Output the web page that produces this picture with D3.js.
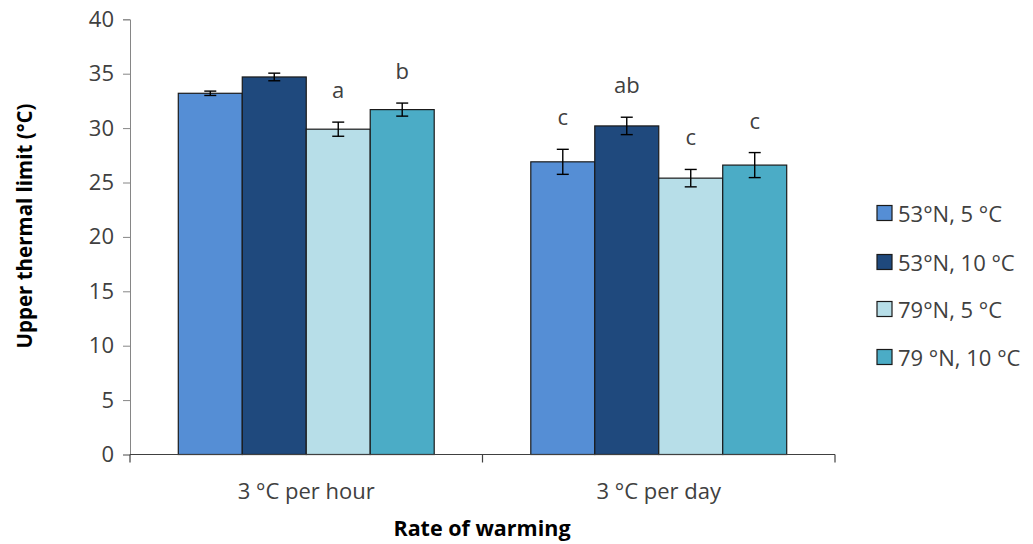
<!DOCTYPE html>
<html>
<head>
<meta charset="utf-8">
<script src="https://cdn.jsdelivr.net/npm/d3@7"></script>
<style>
  html, body { margin: 0; padding: 0; background: #fff; }
  svg { display: block; font-family: "Open Sans", "Liberation Sans", sans-serif; }
</style>
</head>
<body>
<svg id="chart" width="1033" height="544"></svg>
<script>
// Warming-rate treatments (x categories)
const categories = ["3 °C per hour", "3 °C per day"];
// Population / acclimation groups (bar series)
const series = ["53°N, 5 °C", "53°N, 10 °C", "79°N, 5 °C", "79 °N, 10 °C"];
const colors = ["#558ED5", "#1F497D", "#B7DEE8", "#4BACC6"];
// Mean upper thermal limit per series, one value per category
const means = [
  [33.2, 26.9],
  [34.7, 30.2],
  [29.9, 25.4],
  [31.7, 26.6]
];
// Error (± half-length) per series, one value per category
const errors = [
  [0.2, 1.15],
  [0.35, 0.8],
  [0.65, 0.8],
  [0.6, 1.15]
];
// Significance letters per series, one value per category
const letters = [
  ["", "c"],
  ["", "ab"],
  ["a", "c"],
  ["b", "c"]
];
const yTicks = [0, 5, 10, 15, 20, 25, 30, 35, 40];

const svg = d3.select("#chart");
const plot = { left: 130, right: 835, top: 19.3, bottom: 454.5 };
const textColor = "#404040";
const fs = 22;

const y = d3.scaleLinear().domain([0, 40]).range([plot.bottom, plot.top]);
const x0 = d3.scaleBand().domain(categories)
  .range([plot.left, plot.right]).paddingInner(0.274).paddingOuter(0.137);
const x1 = d3.scaleBand().domain(series).range([0, x0.bandwidth()]).padding(0);

// Y axis
const yAxis = d3.axisLeft(y).tickValues(yTicks).tickSize(7).tickPadding(9);
const gy = svg.append("g").attr("transform", `translate(${plot.left},0)`).call(yAxis);
gy.select(".domain").attr("stroke", "#868686");
gy.selectAll(".tick line").attr("stroke", "#868686");
gy.selectAll(".tick text").attr("font-size", fs).attr("fill", textColor)
  .attr("font-family", "'Open Sans', sans-serif");

const cells = [];
categories.forEach((c, ci) => series.forEach((s, si) => {
  cells.push({ cat: c, ser: s, si, v: means[si][ci], e: errors[si][ci], lab: letters[si][ci] });
}));

// Bars
svg.append("g").selectAll("rect").data(cells).join("rect")
  .attr("x", d => x0(d.cat) + x1(d.ser))
  .attr("y", d => y(d.v))
  .attr("width", x1.bandwidth())
  .attr("height", d => y(0) - y(d.v))
  .attr("fill", d => colors[d.si])
  .attr("stroke", "#1a1a1a")
  .attr("stroke-width", 1.2);

// Error bars
const errG = svg.append("g").attr("stroke", "#000").attr("stroke-width", 1.4);
const cx = d => x0(d.cat) + x1(d.ser) + x1.bandwidth() / 2;
errG.selectAll("line.v").data(cells).join("line").attr("class", "v")
  .attr("x1", cx).attr("x2", cx)
  .attr("y1", d => y(d.v + d.e)).attr("y2", d => y(d.v - d.e));
errG.selectAll("line.t").data(cells).join("line").attr("class", "t")
  .attr("x1", d => cx(d) - 6).attr("x2", d => cx(d) + 6)
  .attr("y1", d => y(d.v + d.e)).attr("y2", d => y(d.v + d.e));
errG.selectAll("line.b").data(cells).join("line").attr("class", "b")
  .attr("x1", d => cx(d) - 6).attr("x2", d => cx(d) + 6)
  .attr("y1", d => y(d.v - d.e)).attr("y2", d => y(d.v - d.e));

// Significance letters
svg.append("g").selectAll("text").data(cells.filter(d => d.lab)).join("text")
  .attr("x", cx)
  .attr("y", d => y(d.v + d.e) - 33)
  .attr("text-anchor", "middle")
  .attr("dominant-baseline", "central")
  .attr("font-size", fs)
  .attr("fill", textColor)
  .text(d => d.lab);

// X axis
const xAxisG = svg.append("g");
xAxisG.append("line")
  .attr("x1", plot.left).attr("x2", plot.right)
  .attr("y1", y(0)).attr("y2", y(0))
  .attr("stroke", "#404040").attr("stroke-width", 1.2);
const bounds = [plot.left, ...categories.map(c => x0(c) + x0.bandwidth() / 2 + x0.step() / 2)];
xAxisG.selectAll("line.tk").data(bounds).join("line").attr("class", "tk")
  .attr("x1", d => d).attr("x2", d => d)
  .attr("y1", y(0)).attr("y2", y(0) + 8)
  .attr("stroke", "#404040").attr("stroke-width", 1.2);
xAxisG.selectAll("text").data(categories).join("text")
  .attr("x", d => x0(d) + x0.bandwidth() / 2)
  .attr("y", 490)
  .attr("text-anchor", "middle")
  .attr("dominant-baseline", "central")
  .attr("font-size", fs)
  .attr("fill", textColor)
  .text(d => d);

// Axis titles
svg.append("text")
  .attr("x", 482)
  .attr("y", 536)
  .attr("text-anchor", "middle")
  .attr("font-size", 21.5).attr("font-weight", "bold").attr("fill", "#000")
  .text("Rate of warming");
svg.append("text")
  .attr("transform", "translate(24,226) rotate(-90)")
  .attr("text-anchor", "middle")
  .attr("dominant-baseline", "central")
  .attr("font-size", 20.5).attr("font-weight", "bold").attr("fill", "#000")
  .text("Upper thermal limit (°C)");

// Legend
const rowY = [213, 262, 309, 357];
const lg = svg.append("g").selectAll("g").data(series).join("g")
  .attr("transform", (d, i) => `translate(877,${rowY[i]})`);
lg.append("rect").attr("x", 0).attr("y", -7.5).attr("width", 15).attr("height", 15)
  .attr("fill", (d, i) => colors[i]).attr("stroke", "#1a1a1a").attr("stroke-width", 1.2);
lg.append("text").attr("x", 21).attr("y", 0)
  .attr("dominant-baseline", "central")
  .attr("font-size", fs).attr("fill", textColor)
  .text(d => d);
</script>
</body>
</html>
